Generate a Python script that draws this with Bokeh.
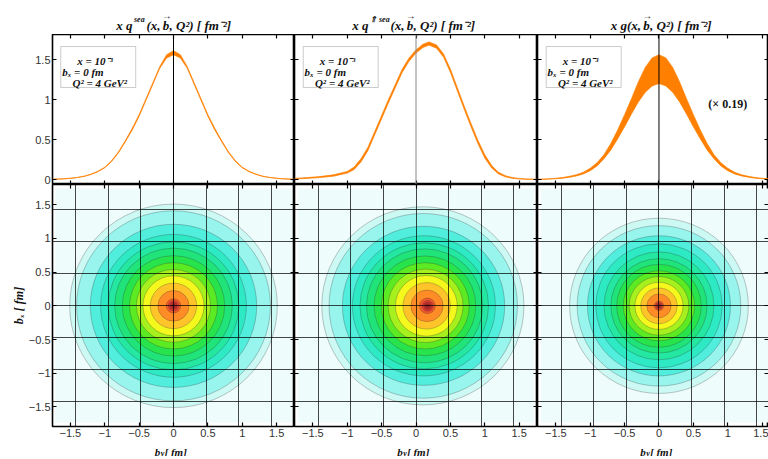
import math
from bokeh.plotting import figure
from bokeh.layouts import row, column
from bokeh.models import (Range1d, FixedTicker, LinearAxis, Label, BoxAnnotation, Span,
                          CustomLabelingPolicy)
from bokeh.core.properties import value
from bokeh.embed import file_html
from bokeh.resources import INLINE

# ---------------- data ----------------
# top panels: profiles at b_x = 0 (lower / upper edge of the uncertainty band)
b_sym = [-1.76, -1.6, -1.5, -1.4, -1.3, -1.2, -1.1, -1.0, -0.9, -0.8, -0.7, -0.6, -0.5, -0.4, -0.3, -0.2, -0.1, 0.0,
         0.1, 0.2, 0.3, 0.4, 0.5, 0.6, 0.7, 0.8, 0.9, 1.0, 1.1, 1.2, 1.3, 1.4, 1.5, 1.6, 1.76]
sea_upper = [0.004, 0.009, 0.016, 0.026, 0.042, 0.067, 0.103, 0.154, 0.235, 0.346, 0.487, 0.64, 0.81, 1.01, 1.21, 1.41, 1.56, 1.61,
             1.56, 1.41, 1.21, 1.01, 0.81, 0.64, 0.487, 0.346, 0.235, 0.154, 0.103, 0.067, 0.042, 0.026, 0.016, 0.009, 0.004]
sea_lower = [0.002, 0.007, 0.014, 0.024, 0.038, 0.063, 0.097, 0.146, 0.225, 0.334, 0.473, 0.62, 0.79, 0.99, 1.19, 1.39, 1.52, 1.56,
             1.52, 1.39, 1.19, 0.99, 0.79, 0.62, 0.473, 0.334, 0.225, 0.146, 0.097, 0.063, 0.038, 0.024, 0.014, 0.007, 0.002]

b_pol = [-1.76, -1.6, -1.4, -1.2, -1.0, -0.9, -0.8, -0.7, -0.6, -0.5, -0.4, -0.3, -0.2, -0.1, 0.0, 0.1, 0.19,
         0.3, 0.4, 0.5, 0.6, 0.7, 0.8, 0.9, 1.0, 1.1, 1.2, 1.3, 1.4, 1.5, 1.6, 1.76]
pol_upper = [0.016, 0.023, 0.036, 0.058, 0.10, 0.155, 0.26, 0.40, 0.60, 0.80, 1.00, 1.19, 1.38, 1.52, 1.62, 1.69, 1.72,
             1.68, 1.57, 1.38, 1.15, 0.92, 0.70, 0.49, 0.31, 0.175, 0.09, 0.047, 0.025, 0.013, 0.007, 0.003]
pol_lower = [0.008, 0.013, 0.024, 0.042, 0.08, 0.125, 0.22, 0.36, 0.56, 0.76, 0.96, 1.15, 1.34, 1.48, 1.58, 1.65, 1.68,
             1.64, 1.53, 1.34, 1.11, 0.88, 0.66, 0.45, 0.27, 0.145, 0.07, 0.033, 0.015, 0.007, 0.003, 0.001]

glu_upper = [0.003, 0.008, 0.015, 0.025, 0.04, 0.06, 0.09, 0.14, 0.21, 0.31, 0.45, 0.62, 0.81, 1.01, 1.22, 1.40, 1.52, 1.56,
             1.52, 1.40, 1.22, 1.01, 0.81, 0.62, 0.45, 0.31, 0.21, 0.14, 0.09, 0.06, 0.04, 0.025, 0.015, 0.008, 0.003]
glu_lower = [0.001, 0.005, 0.01, 0.016, 0.028, 0.045, 0.07, 0.11, 0.17, 0.26, 0.37, 0.51, 0.66, 0.82, 0.97, 1.09, 1.17, 1.20,
             1.17, 1.09, 0.97, 0.82, 0.66, 0.51, 0.37, 0.26, 0.17, 0.11, 0.07, 0.045, 0.028, 0.016, 0.01, 0.005, 0.001]

# bottom panels: contour rings (radius and centre along b_y), outermost first
sea_radius = [1.51, 1.41, 1.21, 1.06, 0.95, 0.856, 0.745, 0.64, 0.54, 0.445, 0.338, 0.227, 0.106, 0.075, 0.05, 0.025]
sea_center = [0.0] * 16
pol_radius = [1.47, 1.37, 1.18, 1.04, 0.935, 0.845, 0.74, 0.64, 0.545, 0.45, 0.345, 0.235, 0.115, 0.08, 0.055, 0.03]
pol_center = [0.10, 0.105, 0.11, 0.115, 0.12, 0.125, 0.13, 0.135, 0.14, 0.15, 0.155, 0.16, 0.165, 0.17, 0.17, 0.17]
glu_radius = [1.30, 1.19, 1.04, 0.92, 0.80, 0.70, 0.615, 0.52, 0.435, 0.35, 0.265, 0.177, 0.07, 0.05, 0.033, 0.017]
glu_center = [0.0] * 16
ring_colors = ["#cdf9f5", "#98f5ee", "#52eedd", "#2eeac4", "#24e8a2", "#20e47a", "#28e44c", "#5cea22",
               "#a6f01e", "#f4f81c", "#ffc42a", "#ff8c26", "#f5582a", "#e03c30", "#c82c2c", "#a82222"]

axis_ticks = [-1.5, -1, -0.5, 0, 0.5, 1, 1.5]
axis_tick_labels = ["\u22121.5", "\u22121", "\u22120.5", "0", "0.5", "1", "1.5"]
top_ticks = [0, 0.5, 1, 1.5]
top_tick_labels = ["0", "0.5", "1", "1.5"]
mesh = [-1.425, -0.95, -0.475, 0, 0.475, 0.95, 1.425]

SERIF = "Liberation Serif"
SANS = "Liberation Sans"
ORANGE = "#ff8000"
INK = "#111111"

X_RANGES = [(-1.76, 1.76), (-1.767, 1.767), (-1.767, 1.593)]
FRAME_W = [242, 243, 231]
COL_CENTER_PX = [173, 415.5, 658.5]

NO_LABELS = CustomLabelingPolicy(code="for (const i of Array.from(indices)) { indices.unset(i) }\nreturn indices")


def ticks_only(ax, ticks, labels=None):
    ax.ticker = FixedTicker(ticks=ticks)
    ax.major_tick_in = 4
    ax.major_tick_out = 0
    ax.major_tick_line_color = "black"
    ax.major_tick_line_width = 1.2
    ax.minor_tick_line_color = None
    ax.axis_line_color = None
    if labels is not None:
        ax.major_label_overrides = dict(zip(ticks, labels))
        ax.major_label_text_font = SANS
        ax.major_label_text_font_size = "11px"
        ax.major_label_text_color = "#333333"
        ax.major_label_standoff = 2
    else:
        ax.major_label_text_font_size = "0px"
        ax.major_label_standoff = 0
        ax.major_label_policy = NO_LABELS


def make_fig(i, top):
    p = figure(x_range=Range1d(*X_RANGES[i]),
               y_range=Range1d(-0.0625, 1.8125) if top else Range1d(-1.79, 1.80),
               frame_width=FRAME_W[i], frame_height=150 if top else 242,
               min_border_left=52 if i == 0 else 0, min_border_right=0,
               min_border_top=0, min_border_bottom=0 if top else 15,
               toolbar_location=None, output_backend="svg")
    p.outline_line_color = "black"
    p.outline_line_width = 1.6
    p.background_fill_color = "white"
    p.border_fill_color = None
    p.add_layout(LinearAxis(), "right")
    p.add_layout(LinearAxis(), "above")
    yt = top_ticks if top else axis_ticks
    ytl = top_tick_labels if top else axis_tick_labels
    for ax in p.xaxis:
        ticks_only(ax, axis_ticks, axis_tick_labels if (not top and ax in p.below) else None)
    for ax in p.yaxis:
        ticks_only(ax, yt, ytl if (i == 0 and ax in p.left) else None)
    return p


def top_panel(i, b, lo, hi, vcol):
    p = make_fig(i, True)
    p.grid.visible = False
    p.varea(x=b, y1=lo, y2=hi, fill_color=ORANGE, fill_alpha=1.0)
    p.line(b, lo, line_color=ORANGE, line_width=0.7)
    p.line(b, hi, line_color=ORANGE, line_width=0.7)
    p.add_layout(Span(location=0, dimension="height", line_color=vcol, line_width=1))
    p.add_layout(BoxAnnotation(left=-1.64, right=-0.55, bottom=1.15, top=1.6625,
                               fill_color="white", fill_alpha=1, line_color="#555555", line_width=1))
    for txt, x, y in [("x = 10\u207b\u00b3", -1.40, 1.48), ("b\u2093 = 0  fm", -1.62, 1.345),
                      ("Q\u00b2 = 4 GeV\u00b2", -1.47, 1.205)]:
        p.add_layout(Label(x=x, y=y, text=txt, text_font=SERIF, text_font_style="bold italic",
                           text_font_size="11px", text_color=INK, text_baseline="alphabetic"))
    return p


def bottom_panel(i, radius, center):
    p = make_fig(i, False)
    p.add_layout(BoxAnnotation(left=-1.72, right=1.72, bottom=-1.73, top=1.74,
                               fill_color="#effcfc", fill_alpha=1, line_color=None, level="underlay"))
    p.ellipse(x=center, y=[0.0] * len(radius), width=[2 * r for r in radius], height=[2 * r for r in radius],
              fill_color=ring_colors[:len(radius)], fill_alpha=1.0, line_color="#303030", line_alpha=0.35, line_width=0.8)
    for g in (p.xgrid, p.ygrid):
        g.ticker = FixedTicker(ticks=mesh)
        g.grid_line_color = "black"
        g.grid_line_alpha = 0.72
        g.grid_line_width = 1
        g.level = "annotation"
    return p


def strip(height):
    s = figure(x_range=Range1d(0, 768), y_range=Range1d(height, 0), width=768, height=height,
               x_axis_type=None, y_axis_type=None, toolbar_location=None, output_backend="svg",
               min_border=0)
    s.outline_line_color = None
    s.grid.visible = False
    s.background_fill_color = None
    s.border_fill_color = None
    return s


def stext(s, x, y, txt, size="13px", align="left", style="bold italic"):
    s.text(x=[x], y=[y], text=[txt], text_font=value(SERIF), text_font_style=style,
           text_font_size=size, text_color=INK, text_align=align, text_baseline="alphabetic")


def vec_b(s, bc, head):
    # "(x, b, Q²)" with an arrow above b, split so the arrow sits over the b
    stext(s, bc - 5.5, 24.5, head, align="right")
    stext(s, bc, 24.5, "b", align="center")
    stext(s, bc + 0.8, 15.0, "\u2192", size="10px", align="center", style="bold")
    stext(s, bc + 3.5, 24.5, ", Q\u00b2) [ fm\u207b\u00b2]")


# ---- titles strip (pixel coordinates of the layout) ----
title_strip = strip(34)
stext(title_strip, 132, 24.5, "x q", align="right")
stext(title_strip, 133.5, 18.5, "sea", size="8px")
vec_b(title_strip, 165.5, "(x,")
stext(title_strip, 368, 24.5, "x q", align="right")
stext(title_strip, 369.5, 18.5, "\u21d1 sea", size="8px")
vec_b(title_strip, 409.5, "(x,")
vec_b(title_strip, 646.0, "x g(x,")

t1 = top_panel(0, b_sym, sea_lower, sea_upper, "black")
t2 = top_panel(1, b_pol, pol_lower, pol_upper, "#888888")
t3 = top_panel(2, b_sym, glu_lower, glu_upper, "black")
t3.add_layout(Label(x=1.0, y=0.94, text="(\u00d7 0.19)", text_font=SERIF, text_font_style="bold",
                    text_font_size="12px", text_color=INK, text_align="center", text_baseline="middle"))

b1 = bottom_panel(0, sea_radius, sea_center)
b2 = bottom_panel(1, pol_radius, pol_center)
b3 = bottom_panel(2, glu_radius, glu_center)
b1.yaxis[0].axis_label = "b\u2093 [ fm]"
b1.yaxis[0].axis_label_text_font = SERIF
b1.yaxis[0].axis_label_text_font_style = "bold italic"
b1.yaxis[0].axis_label_text_font_size = "12px"
b1.yaxis[0].axis_label_text_color = INK
b1.yaxis[0].axis_label_standoff = 0

# ---- x-axis title strip ----
xt_strip = strip(15)
for c in COL_CENTER_PX:
    stext(xt_strip, c - 18.7, 10.0, "b", size="11px")
    stext(xt_strip, c - 12.8, 11.5, "y", size="8px")
    stext(xt_strip, c - 9.0, 10.0, "[ fm]", size="11px")

layout = column(title_strip,
                row(t1, t2, t3, spacing=0),
                row(b1, b2, b3, spacing=0),
                xt_strip, spacing=0)
open("out.html", "w").write(file_html(layout, INLINE))
